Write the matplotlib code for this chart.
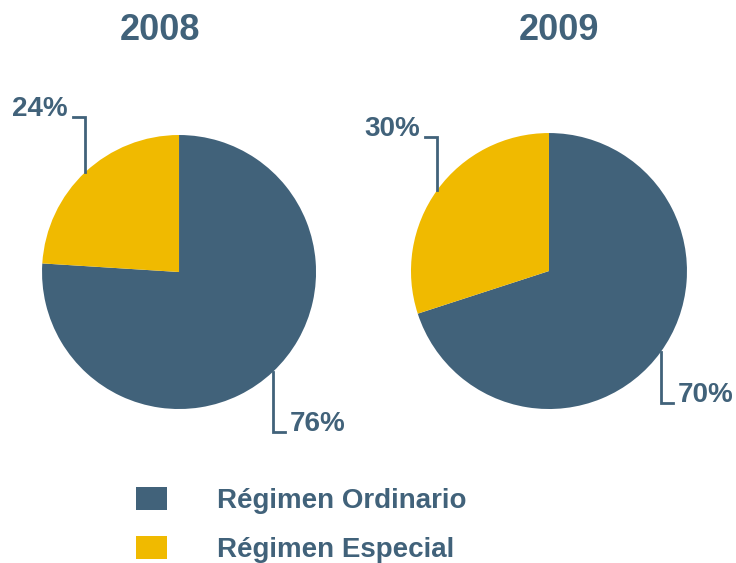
import numpy as np
import matplotlib
matplotlib.use("Agg")
import matplotlib.pyplot as plt
from matplotlib.patches import Patch

plt.rcParams['font.family'] = ['Liberation Sans', 'DejaVu Sans']
plt.rcParams['font.weight'] = 'bold'

years = ['2008', '2009']
categories = ['Régimen Ordinario', 'Régimen Especial']
ordinario = [76, 70]
especial = [24, 30]

blue = '#41627a'
yellow = '#f0ba00'
txt = '#41627a'

fig = plt.figure(figsize=(7.36, 5.63), dpi=100)

# pie boxes in figure fractions (left, bottom, w, h)
boxes = [[0.0571, 0.2735, 0.3723, 0.4867],
         [0.5584, 0.2735, 0.3750, 0.4902]]
title_x = [0.217, 0.760]
# leader line end levels (y) for ordinario / especial labels
lvl_ord = [-1.168, -0.957]
lvl_esp = [1.131, 0.971]
hlen = 0.09

for i, yr in enumerate(years):
    ax = fig.add_axes(boxes[i])
    vals = [ordinario[i], especial[i]]
    wedges, _ = ax.pie(vals, colors=[blue, yellow], startangle=90,
                       counterclock=False, radius=1,
                       wedgeprops=dict(linewidth=0))
    ax.set_xlim(-1, 1)
    ax.set_ylim(-1, 1)
    ax.set_aspect('equal')
    ax.axis('off')

    for w, v, lvl in zip(wedges, vals, [lvl_ord[i], lvl_esp[i]]):
        mid = np.deg2rad((w.theta1 + w.theta2) / 2)
        x0, y0 = np.cos(mid), np.sin(mid)
        side = 1 if x0 > 0 else -1
        x1 = x0 + side * hlen
        ax.plot([x0, x0, x1], [y0, lvl, lvl], color=txt, lw=2,
                clip_on=False, solid_joinstyle='miter')
        ax.text(x1 + side * 0.035, lvl + 0.005, '%d%%' % v, color=txt,
                fontsize=20, fontweight='bold', ha='left' if side > 0 else 'right',
                va='baseline', clip_on=False)

    fig.text(title_x[i], 1 - 31 / 563, yr, color=txt, fontsize=26,
             fontweight='bold', ha='center', va='center')

handles = [Patch(facecolor=blue, edgecolor='none'),
           Patch(facecolor=yellow, edgecolor='none')]
leg = fig.legend(handles, categories, loc='upper left',
                 bbox_to_anchor=(136 / 736, 1 - 487 / 563), frameon=False,
                 fontsize=20, handlelength=1.1, handleheight=0.9,
                 handletextpad=1.8, labelspacing=0.8, borderpad=0,
                 borderaxespad=0)
for t in leg.get_texts():
    t.set_color(txt)
    t.set_fontweight('bold')

fig.savefig('out.png', dpi=100)
